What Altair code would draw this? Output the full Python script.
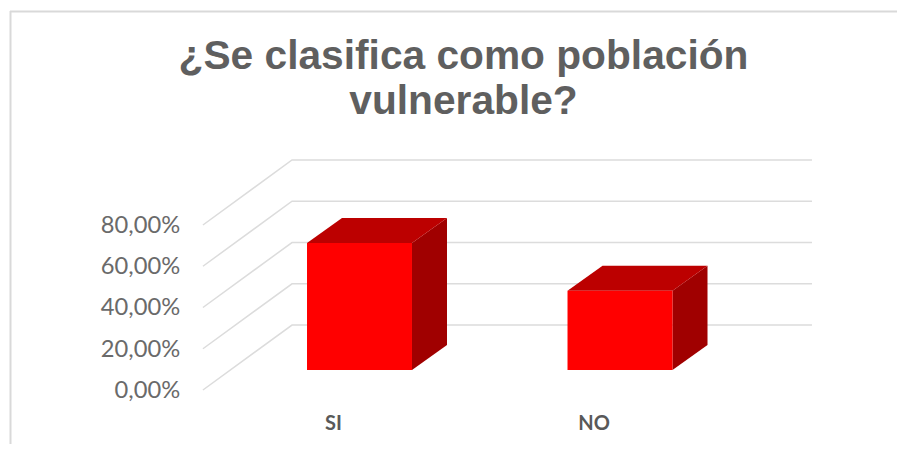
import altair as alt
import pandas as pd

categories = ["SI", "NO"]
values = [61.6, 38.4]
ticks = [0, 20, 40, 60, 80]
tick_labels = ["0,00%", "20,00%", "40,00%", "60,00%", "80,00%"]
title_lines = ["¿Se clasifica como población", "vulnerable?"]

# projection of the fake 3D box, in axis units
HALF_W = 0.2015
BAR_DX = 0.1344
BAR_DY = 12.12
BASE = 9.7
WALL_X0, WALL_X1, WALL_X2 = 0.399, 0.7409, 2.737
WALL_DY = 31.5

xs = alt.Scale(domain=[-0.3493, 3.0633], nice=False, zero=False)
ys = alt.Scale(domain=[-26.18, 185.2], nice=False, zero=False)
X = alt.X("x:Q", scale=xs, axis=None)
Y = alt.Y("y:Q", scale=ys, axis=None)

front, top, side, grid = [], [], [], []
for i, (c, v) in enumerate(zip(categories, values)):
    u = i + 1
    l, r, h = u - HALF_W, u + HALF_W, BASE + v
    front.append(dict(x=l, x2=r, y=BASE, y2=h))
    for x, y, y2 in [(l, h, h), (l + BAR_DX, h, h + BAR_DY),
                     (r, h, h + BAR_DY), (r + BAR_DX, h + BAR_DY, h + BAR_DY)]:
        top.append(dict(c=c, x=x, y=y, y2=y2))
    for x, y, y2 in [(r, BASE, h), (r + BAR_DX, BASE + BAR_DY, h + BAR_DY)]:
        side.append(dict(c=c, x=x, y=y, y2=y2))
for t in ticks:
    for k, (x, y) in enumerate([(WALL_X0, t), (WALL_X1, t + WALL_DY), (WALL_X2, t + WALL_DY)]):
        grid.append(dict(t=t, k=k, x=x, y=y))

grid_l = alt.Chart(pd.DataFrame(grid)).mark_line(color="#dcdcdc", strokeWidth=1.5).encode(
    X, Y, detail="t:N", order="k:Q")
side_l = alt.Chart(pd.DataFrame(side)).mark_area(color="#a00000").encode(
    X, Y, alt.Y2("y2:Q"), detail="c:N")
top_l = alt.Chart(pd.DataFrame(top)).mark_area(color="#bc0000").encode(
    X, Y, alt.Y2("y2:Q"), detail="c:N")
front_l = alt.Chart(pd.DataFrame(front)).mark_rect(color="#ff0000").encode(
    X, alt.X2("x2:Q"), Y, alt.Y2("y2:Q"))

tick_df = pd.DataFrame(dict(y=ticks, label=tick_labels, x=[0.3] * len(ticks)))
tick_l = alt.Chart(tick_df).mark_text(
    align="right", baseline="middle", font="Lato", fontSize=23.7, color="#6a6a6a", dx=3, dy=1
).encode(X, Y, text="label:N")

cat_df = pd.DataFrame(dict(x=[1, 2], y=[-16.5] * 2, label=categories))
cat_l = alt.Chart(cat_df).mark_text(
    align="center", baseline="middle", font="Lato", fontSize=20, fontWeight="bold",
    color="#595959", dx=-26
).encode(X, Y, text="label:N")

border_top = alt.Chart(pd.DataFrame({"a": [0]})).mark_rule(color="#d9d9d9", strokeWidth=2).encode(
    x=alt.value(2), x2=alt.value(889), y=alt.value(3.5))
border_left = alt.Chart(pd.DataFrame({"a": [0]})).mark_rule(color="#d9d9d9", strokeWidth=2).encode(
    x=alt.value(2.5), y=alt.value(3), y2=alt.value(436))

chart = alt.layer(
    border_top, border_left, grid_l, side_l, top_l, front_l, tick_l, cat_l
).properties(
    width=889, height=436,
    autosize=alt.AutoSizeParams(type="none"),
    padding=0,
    title=alt.TitleParams(
        text=title_lines, orient="top", anchor="middle", font="Liberation Sans",
        fontSize=40.7, fontWeight="bold", color="#5f5f5f", lineHeight=45,
        offset=-55, dy=92, dx=11, baseline="alphabetic",
    ),
).configure_view(stroke=None)

chart.save("out.html", embed_options={"renderer": "svg", "actions": False})
